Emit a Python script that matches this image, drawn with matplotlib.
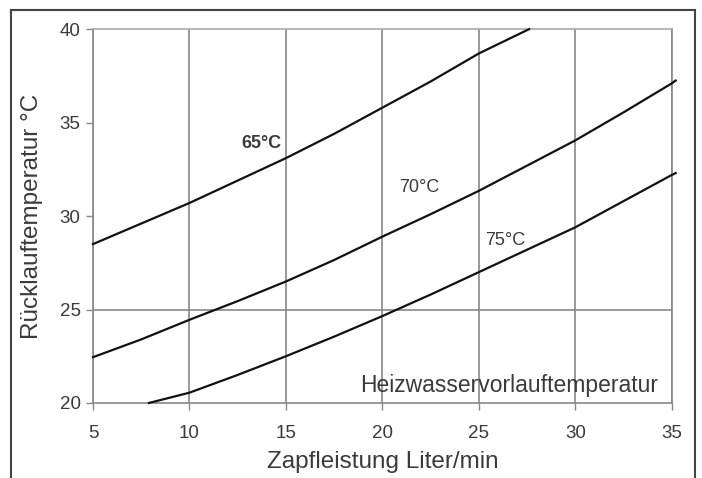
import matplotlib
matplotlib.use('Agg')
import matplotlib.pyplot as plt
from matplotlib.lines import Line2D

plt.rcParams['font.family'] = ['Liberation Sans', 'DejaVu Sans']

# Rücklauftemperatur je Heizwasservorlauftemperatur
x_65 = [5, 7.5, 10, 12.5, 15, 17.5, 20, 22.5, 25, 27.6]
y_65 = [28.5, 29.6, 30.7, 31.9, 33.1, 34.4, 35.8, 37.2, 38.7, 40.0]

x_70 = [5, 7.5, 10, 12.5, 15, 17.5, 20, 22.5, 25, 27.5, 30, 32.5, 35, 35.2]
y_70 = [22.45, 23.4, 24.45, 25.45, 26.5, 27.65, 28.9, 30.1, 31.35, 32.7, 34.05, 35.55, 37.1, 37.25]

x_75 = [7.9, 10, 12.5, 15, 17.5, 20, 22.5, 25, 27.5, 30, 32.5, 35, 35.2]
y_75 = [20.0, 20.55, 21.5, 22.5, 23.55, 24.65, 25.8, 27.0, 28.2, 29.4, 30.8, 32.2, 32.3]

x_ticks = [5, 10, 15, 20, 25, 30, 35]
y_ticks = [20, 25, 30, 35, 40]

txt = '#3a3a3a'
grid = '#888888'

fig = plt.figure(figsize=(7.02, 4.78), dpi=100)
ax = fig.add_axes([0.1325, 0.157, 0.8245, 0.782])

for xv in x_ticks:
    ax.axvline(xv, color=grid, lw=1.2, zorder=1)
ax.axhline(25, color=grid, lw=1.2, zorder=1)

for xs, ys in [(x_65, y_65), (x_70, y_70), (x_75, y_75)]:
    ax.plot(xs, ys, color='#111111', lw=1.6, zorder=3, clip_on=False)

ax.set_xlim(5, 35)
ax.set_ylim(20, 40)
ax.set_xticks(x_ticks)
ax.set_yticks(y_ticks)
ax.tick_params(direction='out', length=5, width=1, colors=grid,
               labelcolor=txt, labelsize=13.5)
ax.tick_params(axis='x', pad=11)
ax.tick_params(axis='y', pad=4)

for s in ['left', 'bottom', 'top', 'right']:
    ax.spines[s].set_color(grid)
    ax.spines[s].set_linewidth(1.2)
ax.spines['top'].set_color('#aaaaaa')

ax.set_xlabel('Zapfleistung Liter/min', fontsize=17.5, color=txt, labelpad=6)
ax.set_ylabel('Rücklauftemperatur °C', fontsize=17.5, color=txt, labelpad=12)

ax.text(13.75, 33.9, '65°C', fontsize=13, fontweight='bold', color=txt,
        ha='center', va='center')
ax.text(21.9, 31.55, '70°C', fontsize=13, color=txt, ha='center', va='center')
ax.text(26.35, 28.7, '75°C', fontsize=13, color=txt, ha='center', va='center')
ax.text(34.3, 20.95, 'Heizwasservorlauftemperatur', fontsize=16.5, color=txt,
        ha='right', va='center')

# outer frame (open at the bottom)
fx0, fx1, fy1 = 11 / 702, 695 / 702, 1 - 10 / 478
for xs, ys in [([fx0, fx0], [0, fy1]), ([fx0, fx1], [fy1, fy1]), ([fx1, fx1], [fy1, 0])]:
    fig.add_artist(Line2D(xs, ys, color='#444444', lw=1.5, transform=fig.transFigure))

fig.savefig('out.png', dpi=100)
